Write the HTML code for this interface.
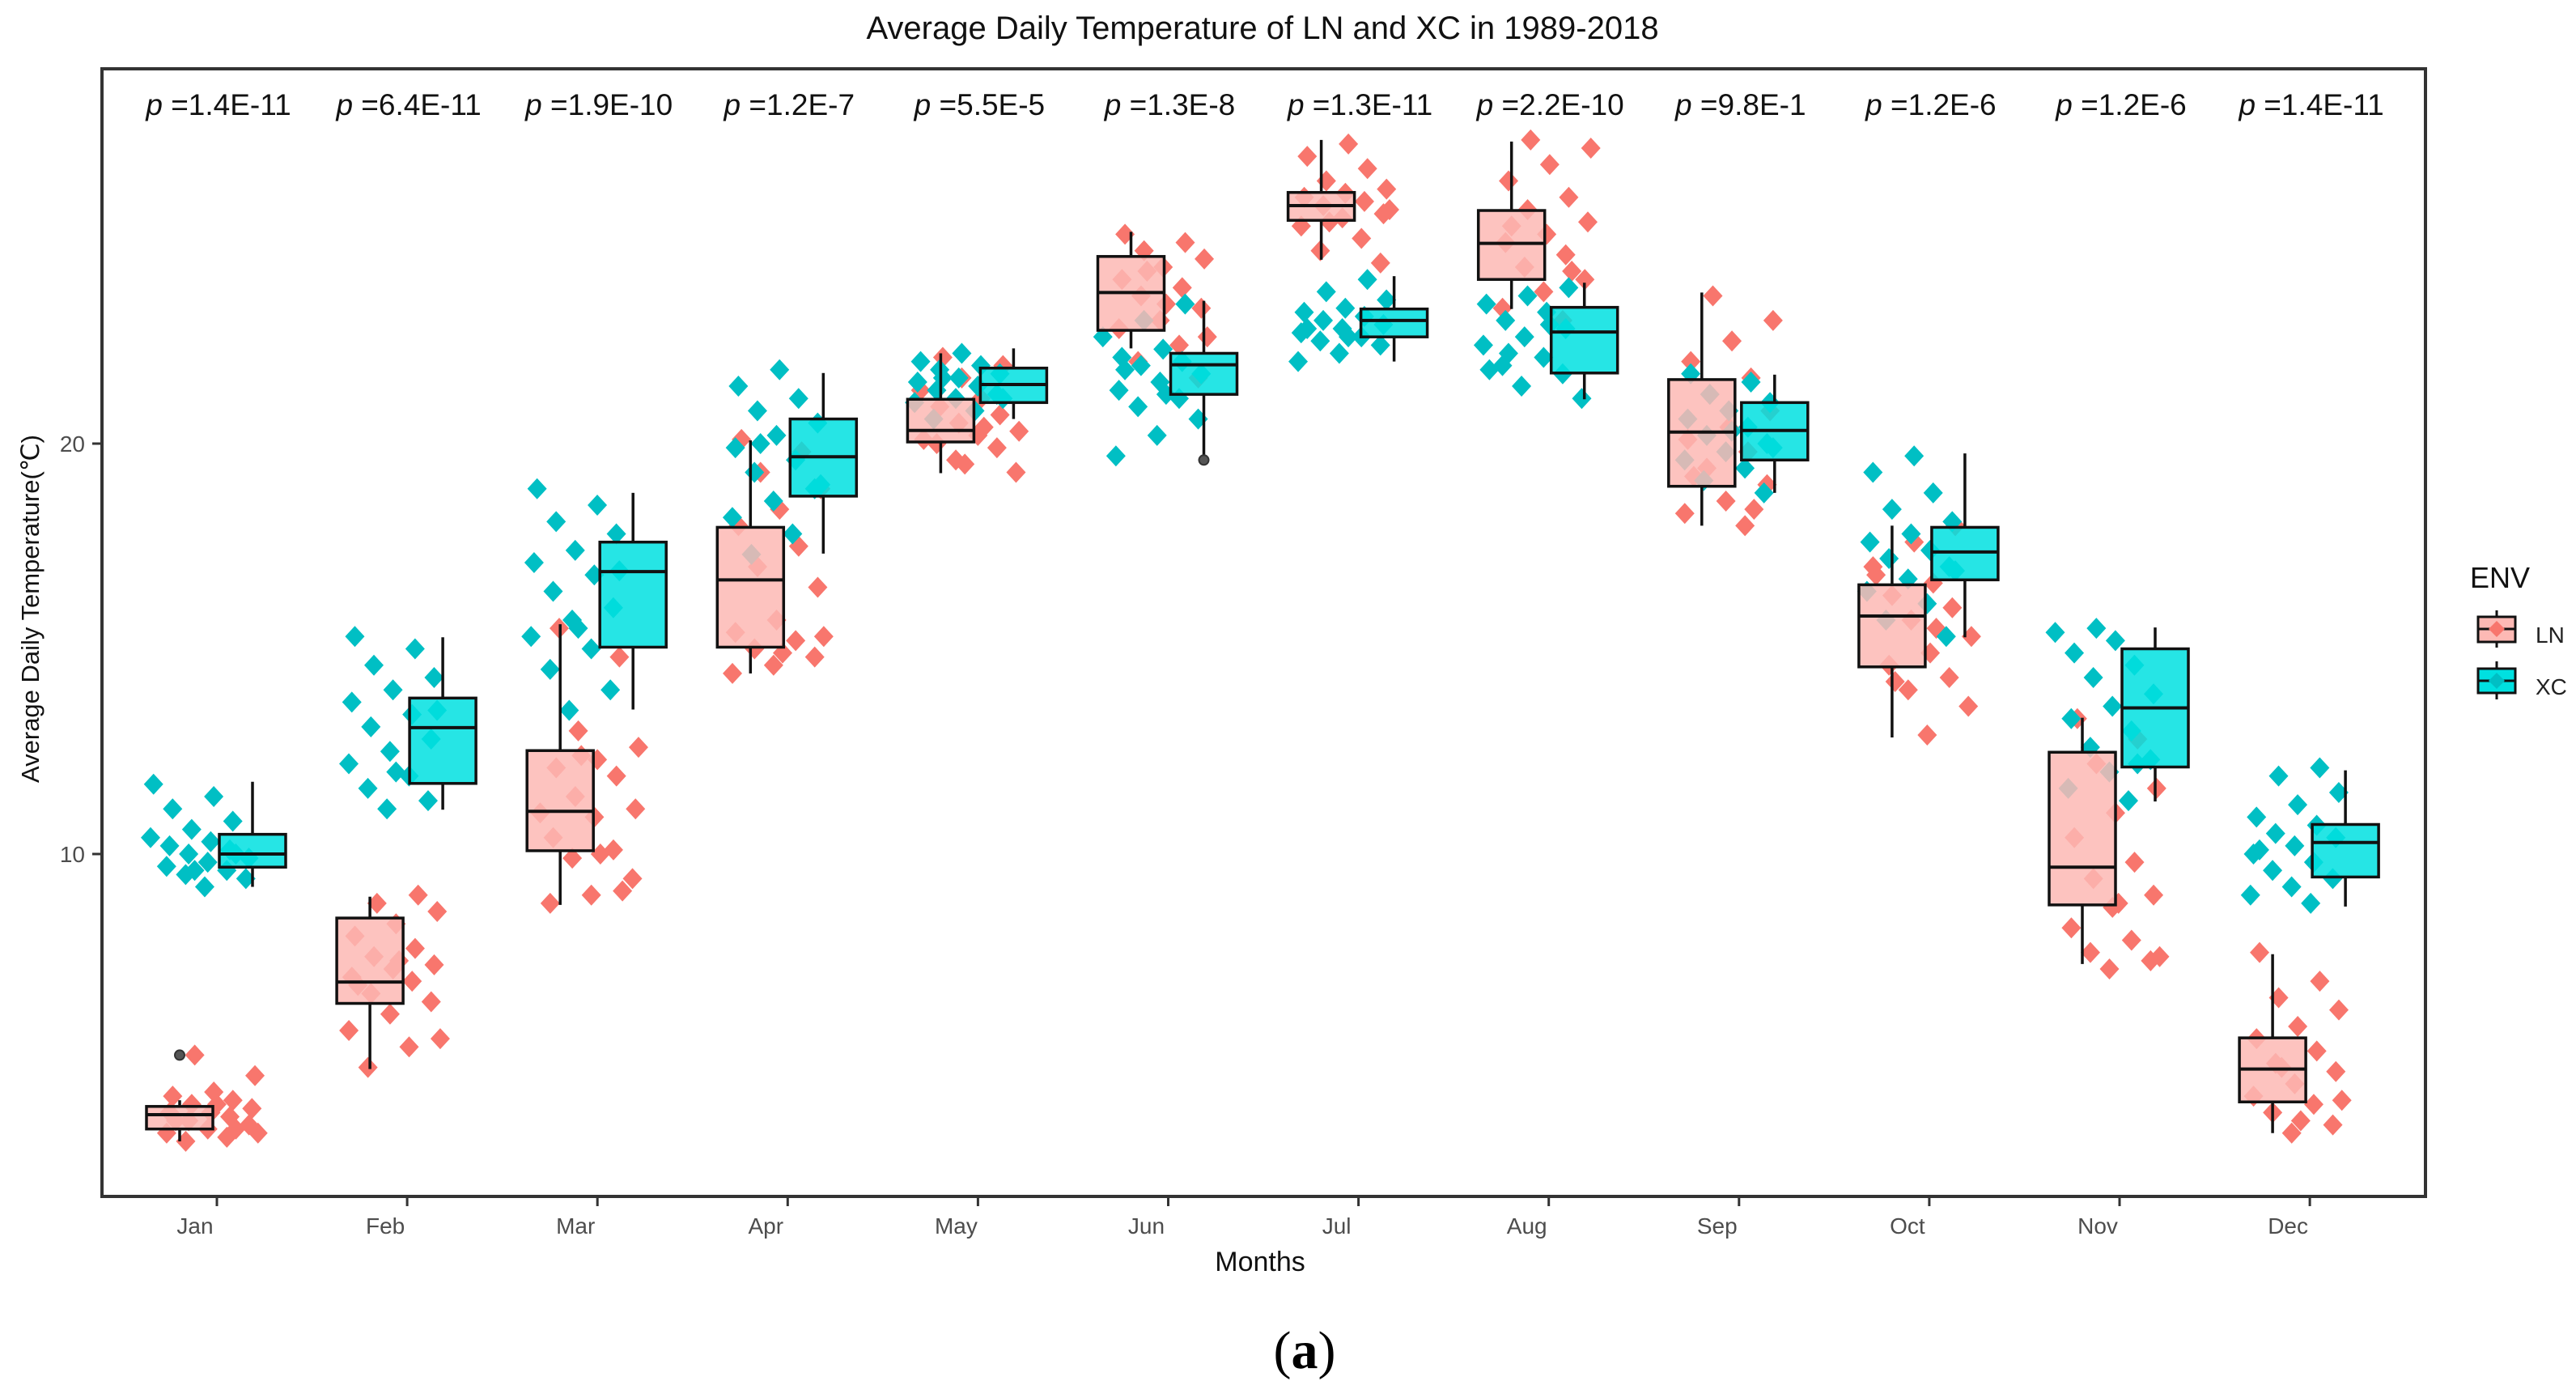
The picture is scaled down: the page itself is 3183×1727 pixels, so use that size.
<!DOCTYPE html>
<html><head><meta charset="utf-8">
<style>
html,body{margin:0;padding:0;background:#fff;}
svg{display:block;}
</style></head>
<body>
<svg id="chart" width="3183" height="1727" viewBox="0 0 3183 1727" xmlns="http://www.w3.org/2000/svg" font-family="Liberation Sans, Arial, sans-serif">
<rect x="0" y="0" width="3183" height="1727" fill="#fff"/>
<text x="1560" y="48" font-size="40" text-anchor="middle" fill="#111">Average Daily Temperature of LN and XC in 1989-2018</text>
<g id="points"></g>
<g id="boxes"></g>
<rect x="126" y="85" width="2871" height="1393" fill="none" stroke="#333" stroke-width="4"/>
<g id="axes"></g>
<text x="1557" y="1570" font-size="34" text-anchor="middle" fill="#111">Months</text>
<text transform="translate(48,752) rotate(-90)" font-size="31" text-anchor="middle" fill="#111">Average Daily Temperature(℃)</text>
<g>
<text x="3052" y="726" font-size="36" fill="#111">ENV</text>
<g>
<line x1="3085" y1="754" x2="3085" y2="800" stroke="#111" stroke-width="3"/>
<rect x="3062" y="762" width="46" height="31" fill="#FDB9B4" stroke="#111" stroke-width="3"/>
<line x1="3062" y1="777" x2="3108" y2="777" stroke="#111" stroke-width="3"/>
<path d="M3085 767 L3095 777 L3085 787 L3075 777 Z" fill="#F8766D"/>
<text x="3133" y="794" font-size="28" fill="#222">LN</text>
</g>
<g>
<line x1="3085" y1="817" x2="3085" y2="864" stroke="#111" stroke-width="3"/>
<rect x="3062" y="826" width="46" height="30" fill="#00E0E0" stroke="#111" stroke-width="3"/>
<line x1="3062" y1="841" x2="3108" y2="841" stroke="#111" stroke-width="3"/>
<path d="M3085 831 L3095 841 L3085 851 L3075 841 Z" fill="#00BFC4"/>
<text x="3133" y="858" font-size="28" fill="#222">XC</text>
</g>
</g>
<text x="1612" y="1690" font-size="66" text-anchor="middle" fill="#000" font-family="Liberation Serif, serif">(<tspan font-weight="bold">a</tspan>)</text>
</svg>
<script>
const months = ["Jan","Feb","Mar","Apr","May","Jun","Jul","Aug","Sep","Oct","Nov","Dec"];
const pLabels = ["1.4E-11","6.4E-11","1.9E-10","1.2E-7","5.5E-5","1.3E-8","1.3E-11","2.2E-10","9.8E-1","1.2E-6","1.2E-6","1.4E-11"];
const yTicks = [10, 20];
// box stats: [lowerWhisker, q1, median, q3, upperWhisker]
const lnStats = [
[3.0,3.3,3.65,3.85,4.0],[4.76,6.36,6.88,8.44,8.96],[8.76,10.08,11.04,12.52,15.6],[14.4,15.04,16.68,17.96,20.08],
[19.28,20.04,20.32,21.08,22.2],[22.32,22.76,23.68,24.56,25.16],[24.48,25.44,25.8,26.12,27.4],[23.28,24.0,24.88,25.68,27.36],
[18.0,18.96,20.28,21.56,23.68],[12.84,14.56,15.8,16.56,18.0],[7.32,8.76,9.68,12.48,13.32],[3.2,3.96,4.76,5.52,7.56]];
const xcStats = [
[9.2,9.68,10.0,10.48,11.76],[11.08,11.72,13.08,13.8,15.28],[13.52,15.04,16.88,17.6,18.8],[17.32,18.72,19.68,20.6,21.72],
[20.6,21.0,21.44,21.84,22.32],[19.68,21.2,21.92,22.2,23.48],[22.0,22.6,23.0,23.28,24.08],[21.08,21.72,22.72,23.32,23.92],
[18.8,19.6,20.32,21.0,21.68],[15.28,16.68,17.36,17.96,19.76],[11.28,12.12,13.56,15.0,15.52],[8.72,9.44,10.28,10.72,12.04]];
const lnOutliers = [[5.1],[],[],[],[],[],[],[],[],[],[],[]];
const xcOutliers = [[],[],[],[],[],[19.6],[],[],[],[],[],[]];
const lnPoints = [
[3.0,3.1,3.2,3.3,3.4,3.5,3.6,3.7,3.7,3.8,3.9,4.0,4.1,4.2,4.6,5.1,3.3,3.5,3.9,3.2],
[4.8,5.3,5.7,6.1,6.4,6.6,6.9,7.0,7.2,7.3,7.5,7.7,8.0,8.3,8.6,8.8,9.0,6.8,7.4,5.5],
[8.8,9.0,9.4,9.9,10.1,10.4,10.9,11.1,11.4,11.9,12.1,12.3,12.6,13.0,14.8,15.5,10.0,11.0,12.4,9.1],
[14.4,14.6,14.8,15.0,15.2,15.4,15.7,16.5,17.0,17.5,18.0,18.4,18.9,19.3,19.8,20.1,14.9,15.3],
[19.3,19.6,19.9,20.0,20.2,20.3,20.5,20.7,20.9,21.1,21.3,21.6,21.9,22.1,20.4,20.1,19.5],
[21.6,22.0,22.4,22.8,23.0,23.3,23.6,23.8,24.0,24.3,24.5,24.7,24.9,25.1,23.4,22.6,24.2],
[24.4,24.7,25.0,25.3,25.5,25.6,25.8,25.9,26.0,26.1,26.2,26.4,26.7,27.0,27.3,25.7,25.4],
[23.0,23.3,23.7,24.0,24.3,24.6,24.9,25.1,25.4,25.7,26.0,26.4,26.8,27.2,27.4,24.2,25.3],
[18.0,18.3,18.6,19.0,19.4,19.8,20.1,20.4,20.8,21.2,21.6,22.0,22.5,23.0,23.6,18.4,19.2],
[12.9,13.6,14.0,14.3,14.6,14.9,15.3,15.7,16.0,16.3,16.6,17.0,17.6,18.0,14.2,15.5,16.8],
[7.2,7.4,7.6,7.9,8.2,8.7,9.0,9.4,9.8,10.4,11.0,11.6,12.2,12.8,13.3,8.8,7.5],
[3.2,3.4,3.7,3.9,4.1,4.4,4.7,4.9,5.2,5.5,5.8,6.2,6.5,6.9,7.6,3.5,4.0,4.8]];
const xcPoints = [
[9.2,9.4,9.5,9.6,9.7,9.8,9.9,10.0,10.1,10.2,10.3,10.4,10.6,10.8,11.1,11.4,11.7,9.6,10.0],
[11.1,11.3,11.6,11.9,12.2,12.5,12.8,13.1,13.4,13.7,14.0,14.3,14.6,15.0,15.3,12.0,13.5],
[13.5,14.0,14.5,15.0,15.3,15.7,16.0,16.4,16.8,17.1,17.4,17.8,18.1,18.5,18.9,15.5,16.9],
[17.3,17.8,18.2,18.6,18.9,19.3,19.6,19.9,20.2,20.5,20.8,21.1,21.4,21.8,19.0,20.0],
[20.6,20.8,21.0,21.1,21.2,21.3,21.4,21.5,21.6,21.7,21.8,21.9,22.0,22.2,21.1,21.6],
[19.7,20.2,20.6,20.9,21.1,21.3,21.5,21.7,21.9,22.0,22.1,22.3,22.6,23.0,23.4,21.8,21.2],
[22.0,22.2,22.4,22.5,22.6,22.7,22.8,22.9,23.0,23.1,23.2,23.3,23.5,23.7,24.0,22.8,22.6],
[21.1,21.4,21.7,21.9,22.1,22.4,22.6,22.8,23.0,23.2,23.4,23.6,23.8,22.2,22.9,21.8],
[18.8,19.1,19.4,19.6,19.8,20.0,20.2,20.4,20.6,20.8,21.0,21.2,21.5,21.7,20.3,19.9],
[15.3,15.7,16.1,16.4,16.7,17.0,17.2,17.4,17.6,17.8,18.1,18.4,18.8,19.3,19.7,16.9],
[11.3,11.6,12.0,12.3,12.6,13.0,13.3,13.6,13.9,14.3,14.6,14.9,15.2,15.4,15.5,12.2],
[8.8,9.0,9.2,9.4,9.6,9.8,10.0,10.2,10.4,10.5,10.7,10.9,11.2,11.5,11.9,12.1,10.1]];

const NS = "http://www.w3.org/2000/svg";
const X0 = 268, XSTEP = 235.1;
function xScale(i){ return X0 + i*XSTEP; }
function yScale(v){ return 1562 - v*50.7; }
function mk(tag, attrs, parent){ const e=document.createElementNS(NS,tag); for(const k in attrs) e.setAttribute(k, attrs[k]); parent.appendChild(e); return e; }

const axes = document.getElementById('axes');
const pts = document.getElementById('points');
const boxes = document.getElementById('boxes');
const svg = document.getElementById('chart');

yTicks.forEach(t => {
  const y = yScale(t);
  const ln = mk('line',{x1:114,x2:126,y1:y,y2:y,stroke:'#333','stroke-width':3},axes);
  
  
  const tx = mk('text',{x:105,y:y+10,'font-size':28,'text-anchor':'end',fill:'#4d4d4d'},axes);
  tx.textContent = t;
  
  
});

months.forEach((m,i) => {
  const x = xScale(i);
  const tk = mk('line',{x1:x,x2:x,y1:1478,y2:1490,stroke:'#333','stroke-width':3},axes);
  
  
  const tl = mk('text',{x:x-27,y:1524,'font-size':28,'text-anchor':'middle',fill:'#4d4d4d'},axes);
  tl.textContent = m;
  
  
  const pl = mk('text',{x:x+2,y:142,'font-size':37,'text-anchor':'middle',fill:'#111'},svg);
  pl.innerHTML = '<tspan font-style="italic">p</tspan> =' + pLabels[i];
  
  
});

function jit(k, mi, s){ return (((k*7919 + mi*104729 + s*31337) % 101) / 100) * 2 - 1; }
function drawPoints(arr, color, grp, off, s){
  arr.forEach((vals, mi) => {
    vals.forEach((v, k) => {
      const cx = xScale(mi) + off + jit(k, mi, s) * 62;
      const cy = yScale(v);
      const d = mk('path',{d:`M${cx} ${cy-13} L${cx+12} ${cy} L${cx} ${cy+13} L${cx-12} ${cy} Z`,fill:color},pts);
      
      
    });
  });
}
drawPoints(lnPoints, '#F8766D', 'ln', -10, 1);
drawPoints(xcPoints, '#00BFC4', 'xc', -20, 2);

function drawBoxes(stats, outl, fill, grp, off){
  stats.forEach((s, mi) => {
    const cx = xScale(mi) + off, w = 82;
    const g = mk('g',{},boxes);
    
    
    mk('line',{x1:cx,x2:cx,y1:yScale(s[4]),y2:yScale(s[3]),stroke:'#111','stroke-width':3.5},g);
    mk('line',{x1:cx,x2:cx,y1:yScale(s[1]),y2:yScale(s[0]),stroke:'#111','stroke-width':3.5},g);
    mk('rect',{x:cx-w/2,y:yScale(s[3]),width:w,height:yScale(s[1])-yScale(s[3]),fill:fill,'fill-opacity':0.85,stroke:'#111','stroke-width':3.5},g);
    mk('line',{x1:cx-w/2,x2:cx+w/2,y1:yScale(s[2]),y2:yScale(s[2]),stroke:'#111','stroke-width':4},g);
    outl[mi].forEach(v => {
      const o = mk('circle',{cx:cx,cy:yScale(v),r:6,fill:'#555',stroke:'#333','stroke-width':2},g);
      
      
    });
  });
}
drawBoxes(lnStats, lnOutliers, '#FDB9B4', 'ln', -46);
drawBoxes(xcStats, xcOutliers, '#00E0E0', 'xc', 44);
</script>
</body></html>
